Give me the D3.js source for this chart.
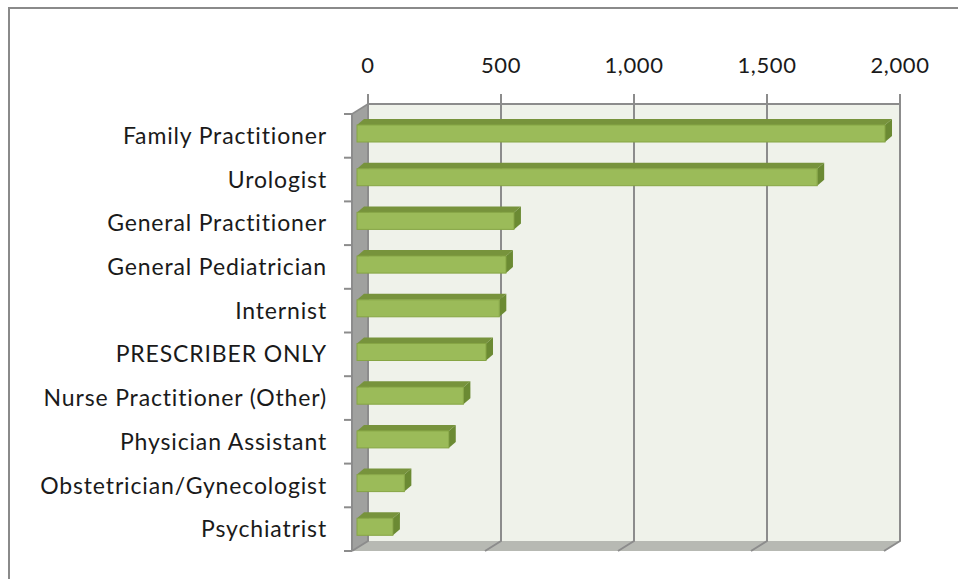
<!DOCTYPE html>
<html>
<head>
<meta charset="utf-8">
<script src="https://cdn.jsdelivr.net/npm/d3@7"></script>
<style>
  body { margin: 0; background: #fff; }
  text { font-family: Lato, "Open Sans", sans-serif; fill: #1a1a1a; }
</style>
</head>
<body>
<div id="wrapper"></div>
<script>
var categories = ["Family Practitioner", "Urologist", "General Practitioner", "General Pediatrician",
	"Internist", "PRESCRIBER ONLY", "Nurse Practitioner (Other)", "Physician Assistant",
	"Obstetrician/Gynecologist", "Psychiatrist"];
var counts = [1985, 1730, 590, 560, 535, 485, 400, 345, 178, 135];
var tickValues = [0, 500, 1000, 1500, 2000];

var width = 958, height = 579;
// back wall box
var wall = {left: 368, right: 900, top: 104, bottom: 541};
// offset from back wall to front plane
var depth = {dx: -16, dy: 10};

var svg = d3.select("#wrapper").append("svg")
	.attr("width", width)
	.attr("height", height);

// outer frame
svg.append("rect")
	.attr("x", 9).attr("y", 8)
	.attr("width", width + 10).attr("height", height + 10)
	.attr("fill", "none")
	.attr("stroke", "#8a8a8a")
	.attr("stroke-width", 2);

var x = d3.scaleLinear()
	.domain([0, 2000])
	.range([wall.left, wall.right]);

// categories on the front plane
var y = d3.scaleBand()
	.domain(categories)
	.range([wall.top + depth.dy, wall.bottom + depth.dy]);

function pts(arr) { return arr.map(function(p) { return p.join(","); }).join(" "); }

// back wall
svg.append("rect")
	.attr("x", wall.left).attr("y", wall.top)
	.attr("width", wall.right - wall.left)
	.attr("height", wall.bottom - wall.top)
	.attr("fill", "#eff2ea");

// left side wall
svg.append("polygon")
	.attr("points", pts([[wall.left, wall.top], [wall.left + depth.dx, wall.top + depth.dy],
		[wall.left + depth.dx, wall.bottom + depth.dy], [wall.left, wall.bottom]]))
	.attr("fill", "#a0a19f");

// floor
svg.append("polygon")
	.attr("points", pts([[wall.left, wall.bottom], [wall.right, wall.bottom],
		[wall.right + depth.dx, wall.bottom + depth.dy], [wall.left + depth.dx, wall.bottom + depth.dy]]))
	.attr("fill", "#b7b9b3");

// gridlines on wall + floor
var grid = svg.append("g").attr("stroke", "#8c8c8c").attr("stroke-width", 2).attr("fill", "none");
grid.selectAll("path.grid")
	.data(tickValues)
	.enter()
	.append("path")
	.attr("class", "grid")
	.attr("d", function(d) {
		return "M" + x(d) + "," + (wall.top - 10) + "L" + x(d) + "," + wall.bottom +
			"L" + (x(d) + depth.dx) + "," + (wall.bottom + depth.dy);
	});

// top edge of wall
grid.append("path")
	.attr("d", "M" + wall.left + "," + wall.top + "L" + wall.right + "," + wall.top);
// top-left diagonal
grid.append("path")
	.attr("stroke-width", 1.5)
	.attr("d", "M" + wall.left + "," + wall.top + "L" + (wall.left + depth.dx) + "," + (wall.top + depth.dy));

// front category axis
var yAxisX = wall.left + depth.dx;
grid.append("path")
	.attr("d", "M" + yAxisX + "," + (wall.top + depth.dy) + "L" + yAxisX + "," + (wall.bottom + depth.dy));
var bounds = categories.map(function(c) { return y(c); }).concat([y.range()[1]]);
grid.selectAll("path.ytick")
	.data(bounds)
	.enter()
	.append("path")
	.attr("class", "ytick")
	.attr("d", function(d) { return "M" + (yAxisX - 8) + "," + d + "L" + yAxisX + "," + d; });

// top tick labels
svg.selectAll("text.xlabel")
	.data(tickValues)
	.enter()
	.append("text")
	.attr("class", "xlabel")
	.attr("x", function(d) { return x(d); })
	.attr("y", 73)
	.attr("text-anchor", "middle")
	.style("font-size", "22px")
	.style("letter-spacing", "0.6px")
	.text(function(d) { return d3.format(",")(d); });

// category labels
svg.selectAll("text.name")
	.data(categories)
	.enter()
	.append("text")
	.attr("class", "name")
	.attr("x", 327)
	.attr("y", function(d) { return y(d) + y.bandwidth() / 2; })
	.attr("dy", ".35em")
	.attr("text-anchor", "end")
	.style("font-size", "23px")
	.style("letter-spacing", "0.85px")
	.text(function(d) { return d; });

// bars (3d): front face, top face, right side
var barH = 17, bdx = 7, bdy = -6, frontShift = 5;
var bars = svg.selectAll("g.bar")
	.data(categories)
	.enter()
	.append("g")
	.attr("class", "bar");

function x0() { return x(0) + depth.dx + frontShift; }
function x1(i) { return x0() + (x(counts[i]) - x(0)); }
function y0(d) { return y(d) + 11; }

bars.append("polygon")
	.attr("points", function(d, i) {
		return pts([[x0(), y0(d)], [x1(i), y0(d)], [x1(i) + bdx, y0(d) + bdy], [x0() + bdx, y0(d) + bdy]]);
	})
	.attr("fill", "#77933c");

bars.append("polygon")
	.attr("points", function(d, i) {
		return pts([[x1(i), y0(d)], [x1(i) + bdx, y0(d) + bdy], [x1(i) + bdx, y0(d) + bdy + barH],
			[x1(i), y0(d) + barH]]);
	})
	.attr("fill", "#6b8a33");

bars.append("rect")
	.attr("x", x0())
	.attr("y", function(d) { return y0(d); })
	.attr("width", function(d, i) { return x1(i) - x0(); })
	.attr("height", barH)
	.attr("fill", "#9bbb59")
	.attr("stroke", "#86a544")
	.attr("stroke-width", 1);
</script>
</body>
</html>
